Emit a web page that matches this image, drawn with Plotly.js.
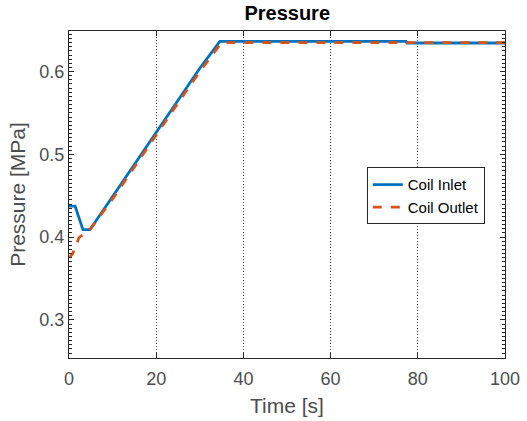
<!DOCTYPE html>
<html>
<head>
<meta charset="utf-8">
<script src="https://cdn.plot.ly/plotly-3.0.1.min.js"></script>
<style>html,body{margin:0;padding:0;background:#fff;}#chart{width:527px;height:421px;}</style>
</head>
<body>
<div id="chart"></div>
<script>
var inletTime = [0, 1.4, 3.2, 4.8, 10, 15, 20, 25, 30, 34.6, 50, 77.3, 77.5, 100];
var inletPressure = [0.4375, 0.4375, 0.409, 0.409, 0.449, 0.488, 0.527, 0.566, 0.604, 0.6365, 0.6365, 0.6365, 0.6345, 0.6345];
var outletTime = [0, 0.8, 2.3, 4.8, 10, 15, 20, 25, 30, 35, 50, 100];
var outletPressure = [0.375, 0.3795, 0.3995, 0.409, 0.446, 0.485, 0.523, 0.562, 0.600, 0.635, 0.635, 0.635];
var seriesNames = ["Coil Inlet", "Coil Outlet"];
var xTicks = [0, 20, 40, 60, 80, 100];
var yTicks = [0.3, 0.4, 0.5, 0.6];

var axisColor = "#262626";
var labelColor = "#4d4d4d";
var font = "Liberation Sans, Arial, sans-serif";

var traces = [
  {x: inletTime, y: inletPressure, name: seriesNames[0], mode: "lines",
   line: {color: "#0072BD", width: 2.8}},
  {x: outletTime, y: outletPressure, name: seriesNames[1], mode: "lines",
   line: {color: "#D95319", width: 2.8, dash: "dash"}}
];

var layout = {
  width: 527, height: 421,
  margin: {l: 69, r: 22, t: 31, b: 63},
  paper_bgcolor: "#fff", plot_bgcolor: "#fff",
  font: {family: font, color: labelColor, size: 18},
  title: {text: "<b>Pressure</b>", x: 0.545, xanchor: "center", y: 0.968, yanchor: "middle",
          font: {family: font, size: 20, color: "#000"}},
  xaxis: {
    range: [0, 100], tickvals: xTicks, ticktext: xTicks.map(String),
    showline: true, linecolor: axisColor, linewidth: 1, mirror: "ticks",
    ticks: "inside", ticklen: 5, tickcolor: axisColor,
    showgrid: true, griddash: "1px,2px", gridcolor: "#444", gridwidth: 1.2,
    zeroline: false, ticklabelstandoff: 4,
    tickfont: {size: 18, color: labelColor},
    title: {text: "Time [s]", font: {size: 21, color: labelColor}, standoff: 10}
  },
  yaxis: {
    range: [0.254, 0.649], tickvals: yTicks, ticktext: yTicks.map(function(v){return v.toFixed(1);}),
    showline: true, linecolor: axisColor, linewidth: 1, mirror: "ticks",
    ticks: "inside", ticklen: 5, tickcolor: axisColor,
    minor: {dtick: 0.005, ticks: "inside", ticklen: 3, tickcolor: axisColor, showgrid: false},
    showgrid: false, zeroline: false,
    tickfont: {size: 18, color: labelColor},
    title: {text: "Pressure [MPa]", font: {size: 21, color: labelColor}, standoff: 8}
  },
  showlegend: true,
  legend: {x: 0.683, y: 0.583, xanchor: "left", yanchor: "top",
           bgcolor: "#fff", bordercolor: "#262626", borderwidth: 1,
           font: {family: font, size: 15, color: "#000"},
           tracegroupgap: 0, itemwidth: 30}
};

Plotly.newPlot("chart", traces, layout, {staticPlot: true, displayModeBar: false});
</script>
</body>
</html>
